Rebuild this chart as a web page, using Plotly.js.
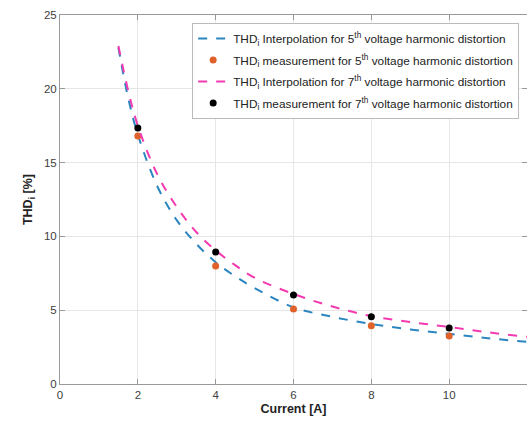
<!DOCTYPE html>
<html><head><meta charset="utf-8">
<script src="https://cdn.plot.ly/plotly-3.0.1.min.js"></script>
<style>html,body{margin:0;padding:0;background:#fff;}#chart{width:527px;height:424px;}</style>
</head><body><div id="chart"></div>
<script>
// Interpolation curves
const interpX = [1.5,1.75,2,2.5,3,3.5,4,4.5,5,6,7,8,9,10,11,12];
const interp5Y = [22.8,19.4,16.9,13.4,11.1,9.5,8.25,7.3,6.5,5.2,4.55,4.07,3.7,3.4,3.1,2.85];
const interp7Y = [22.9,19.9,17.5,14.2,12.0,10.3,9.05,8.05,7.2,6.1,5.25,4.6,4.2,3.86,3.5,3.2];
// Measurements
const measX = [2,4,6,8,10];
const meas5Y = [16.8,8.0,5.08,3.95,3.25];
const meas7Y = [17.35,8.94,6.03,4.55,3.8];
const xTicks = [0,2,4,6,8,10];
const yTicks = [0,5,10,15,20,25];

const traces = [
  {x: interpX, y: interp5Y, mode:'lines', line:{color:'#2b86bf', width:2, dash:'dash', shape:'spline'}, legendgroup:'a',
   name:'THD<sub>i</sub> Interpolation for 5<sup>th</sup> voltage harmonic distortion'},
  {x: measX, y: meas5Y, mode:'markers', marker:{color:'#e0622a', size:7}, legendgroup:'b',
   name:'THD<sub>i</sub> measurement for 5<sup>th</sup> voltage harmonic distortion'},
  {x: interpX, y: interp7Y, mode:'lines', line:{color:'#f43ab0', width:2, dash:'dash', shape:'spline'}, legendgroup:'c',
   name:'THD<sub>i</sub> Interpolation for 7<sup>th</sup> voltage harmonic distortion'},
  {x: measX, y: meas7Y, mode:'markers', marker:{color:'#000000', size:7}, legendgroup:'d',
   name:'THD<sub>i</sub> measurement for 7<sup>th</sup> voltage harmonic distortion'}
];

const layout = {
  width:527, height:424,
  margin:{l:60, r:0, t:15, b:40},
  paper_bgcolor:'#fff', plot_bgcolor:'#fff',
  font:{family:'Liberation Sans, Arial, sans-serif', size:11.5, color:'#404040'},
  showlegend:true,
  legend:{x:0.283, y:0.978, xanchor:'left', yanchor:'top', bgcolor:'#fff', bordercolor:'#bbb', borderwidth:1,
    font:{size:11.8, color:'#222'}, tracegroupgap:2.5, itemwidth:30},
  xaxis:{range:[0,12], tickvals:xTicks, ticks:'inside', ticklen:5, tickcolor:'#999',
    showgrid:true, gridcolor:'#e6e6e6', showline:true, linecolor:'#999', mirror:'ticks', zeroline:false,
    title:{text:'<b>Current [A]</b>', font:{size:12.5, color:'#222'}, standoff:4}},
  yaxis:{range:[0,25], tickvals:yTicks, ticks:'inside', ticklen:5, tickcolor:'#999',
    showgrid:true, gridcolor:'#e6e6e6', showline:true, linecolor:'#999', mirror:'ticks', zeroline:false,
    title:{text:'<b>THD<sub>i</sub> [%]</b>', font:{size:12.5, color:'#222'}, standoff:8}}
};
Plotly.newPlot('chart', traces, layout, {displayModeBar:false, staticPlot:true});
</script></body></html>
